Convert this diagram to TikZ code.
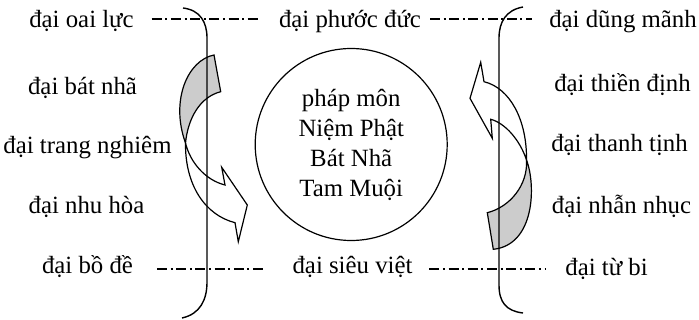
\documentclass[tikz,border=0pt]{standalone}
\usepackage{fontspec}
\setmainfont{Liberation Serif}
\definecolor{shadegray}{RGB}{204,204,204}
\begin{document}
\begin{tikzpicture}[x=0.5pt,y=-0.5pt,
  lbl/.style={font=\fontsize{12.4}{15}\selectfont, anchor=base, inner sep=0pt},
  dd/.style={line width=0.6pt, dash pattern=on 5pt off 1.8pt on 1pt off 1.8pt},
  brk/.style={line width=0.7pt},
  arr/.style={line width=0.6pt, line join=miter},
  shadedpart/.style={arr, fill=shadegray}]
\useasboundingbox (0,0) rectangle (699,320);
% left labels
\node[lbl] (oai) at (81.5,28) {đại oai lực};
\node[lbl] (bat) at (82.5,95) {đại bát nhã};
\node[lbl] (trang) at (87.5,154) {đại trang nghiêm};
\node[lbl] (nhu) at (86.5,213) {đại nhu hòa};
\node[lbl] (bo) at (87.5,273) {đại bồ đề};
% middle labels
\node[lbl] (phuoc) at (350,28) {đại phước đức};
\node[lbl] (sieu) at (352.5,273) {đại siêu việt};
% right labels
\node[lbl] (dung) at (623,28) {đại dũng mãnh};
\node[lbl] (thien) at (622.5,92) {đại thiền định};
\node[lbl] (thanh) at (619.5,152) {đại thanh tịnh};
\node[lbl] (nhan) at (621.5,213) {đại nhẫn nhục};
\node[lbl] (tu) at (606.5,275) {đại từ bi};
% center circle
\node[draw, circle, minimum size=96pt, line width=0.6pt, align=center,
      font=\fontsize{12.4}{15}\selectfont] (phap) at (351.2,144.5)
  {pháp môn\\Niệm Phật\\Bát Nhã\\Tam Muội};
% dash-dot lines
\coordinate (d1a) at (151.7,19);
\coordinate (d1b) at (260,19);
\coordinate (d2a) at (430,19);
\coordinate (d2b) at (532,19);
\coordinate (d3a) at (157,269);
\coordinate (d3b) at (265,269);
\coordinate (d4a) at (429.3,269);
\coordinate (d4b) at (546,269);
\draw[dd] (d1a) -- (d1b);
\draw[dd] (d2a) -- (d2b);
\draw[dd] (d3a) -- (d3b);
\draw[dd] (d4a) -- (d4b);
% left curved arrow
\draw[shadedpart] (214,55) .. controls (188,60) and (170,100) .. (185.5,143)
  .. controls (188,118) and (200,97) .. (220.7,91.7) -- cycle;
\draw[arr] (185.5,143) .. controls (190,162) and (205,180) .. (225,185)
  -- (221.7,167.3) -- (247.3,205) -- (238.3,241.7) -- (235,222.7)
  .. controls (205,215) and (185,185) .. (185.5,143) -- cycle;
% right curved arrow
\draw[shadedpart] (526.5,160) .. controls (536,185) and (535,245) .. (493.3,249.3)
  -- (487.3,212.7) .. controls (510,207) and (528,185) .. (526.5,160) -- cycle;
\draw[arr] (526.5,160) .. controls (527,120) and (510,88) .. (484,81.7)
  -- (480.7,62.3) -- (470,98.3) -- (492.3,138.3) -- (490.7,119.3)
  .. controls (505,123) and (520,140) .. (526.5,160) -- cycle;
% brackets
\draw[brk] (183,8) .. controls (200,10) and (207,22) .. (207,38)
  -- (207,282) .. controls (207,300) and (200,314) .. (182,318);
\draw[brk] (523,7) .. controls (506,10) and (499,22) .. (499,38)
  -- (499,285) .. controls (499,302) and (506,311) .. (523,313);
\end{tikzpicture}
\end{document}
